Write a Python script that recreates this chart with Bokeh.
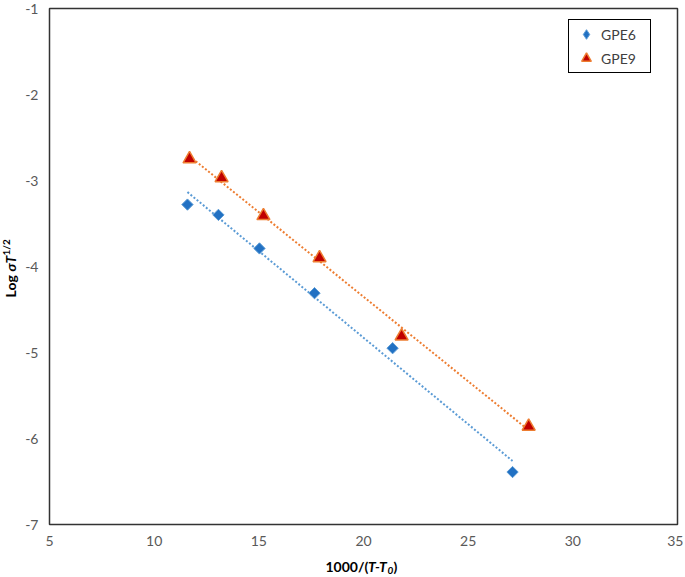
import numpy as np
from math import pi
from bokeh.plotting import figure
from bokeh.layouts import row, column
from bokeh.models import Label, Legend, LegendItem, Range1d, FixedTicker, CustomJSTickFormatter
from bokeh.embed import file_html
from bokeh.resources import INLINE

# ---- data ----
x_gpe6 = [11.59, 13.07, 15.03, 17.66, 21.39, 27.12]
y_gpe6 = [-3.28, -3.40, -3.79, -4.31, -4.95, -6.39]
x_gpe9 = [11.69, 13.22, 15.22, 17.90, 21.82, 27.89]
y_gpe9 = [-2.75, -2.97, -3.41, -3.90, -4.81, -5.86]
series_names = ["GPE6", "GPE9"]
x_ticks = [5, 10, 15, 20, 25, 30, 35]
y_ticks = [-7, -6, -5, -4, -3, -2, -1]

FONT = "Lato"
TICK_COLOR = "#595959"
BLUE_FILL, BLUE_LINE = "#2271C3", "#5B9BD5"
RED_FILL, ORANGE = "#C00000", "#ED7D31"

x_range = Range1d(x_ticks[0], x_ticks[-1])
y_range = Range1d(y_ticks[0], y_ticks[-1])

p = figure(width=661, height=552, output_backend="svg", toolbar_location=None,
           x_range=x_range, y_range=y_range,
           min_border_left=26, min_border_right=6, min_border_top=8, min_border_bottom=28,
           background_fill_color="white", border_fill_color="white")

p.xgrid.visible = False
p.ygrid.visible = False
p.outline_line_color = "#333333"
p.outline_line_width = 1.5
p.outline_line_alpha = 1.0

for ax in (p.xaxis[0], p.yaxis[0]):
    ax.axis_line_color = None
    ax.major_tick_line_color = None
    ax.minor_tick_line_color = None
    ax.major_tick_out = 0
    ax.major_tick_in = 0
    ax.minor_tick_out = 0
    ax.minor_tick_in = 0
    ax.axis_label_standoff = 0
    ax.major_label_text_color = TICK_COLOR
    ax.major_label_text_font = FONT
    ax.major_label_text_font_size = "14px"
    ax.major_label_standoff = 11
    ax.formatter = CustomJSTickFormatter(code="return tick.toString()")
p.xaxis[0].ticker = FixedTicker(ticks=x_ticks)
p.yaxis[0].ticker = FixedTicker(ticks=y_ticks)

# ---- linear trend lines (least squares of the data) ----
def trend(xs, ys):
    k, b = np.polyfit(xs, ys, 1)
    xe = [min(xs), max(xs)]
    return xe, [k * v + b for v in xe]

tx6, ty6 = trend(x_gpe6, y_gpe6)
tx9, ty9 = trend(x_gpe9, y_gpe9)
p.line(tx6, ty6, line_color=BLUE_LINE, line_width=2, line_dash="2 2")
p.line(tx9, ty9, line_color=ORANGE, line_width=2, line_dash="2 2")

# diamond renderer used for the legend swatch (hidden under the rotated squares)
r6_leg = p.scatter(x_gpe6, y_gpe6, marker="diamond", size=9,
                   fill_color=BLUE_FILL, line_color=BLUE_LINE, line_width=1)
p.scatter(x_gpe6, y_gpe6, marker="square", angle=pi / 4, size=8,
          fill_color=BLUE_FILL, line_color=BLUE_LINE, line_width=1)
r9 = p.scatter(x_gpe9, y_gpe9, marker="triangle", size=13,
               fill_color=RED_FILL, line_color=ORANGE, line_width=1.5)

legend = Legend(items=[LegendItem(label=series_names[0], renderers=[r6_leg]),
                       LegendItem(label=series_names[1], renderers=[r9])],
                location=(519, 451), border_line_color="black", border_line_width=1.5,
                border_line_alpha=1.0, label_text_font=FONT, label_text_font_size="14px",
                label_text_color="#404040", padding=2, spacing=0, glyph_height=24,
                glyph_width=30, label_height=24, label_width=47, label_standoff=0,
                margin=0, background_fill_alpha=1.0)
p.add_layout(legend)


def title_fig(w, h, xr, yr):
    f = figure(width=w, height=h, output_backend="svg", toolbar_location=None,
               x_axis_location=None, y_axis_location=None, min_border=0,
               x_range=xr, y_range=yr,
               background_fill_color="white", border_fill_color="white")
    f.outline_line_color = None
    f.grid.visible = False
    return f


def lab(f, x, y, text, xu, yu, xo=0, yo=0, size="14px", style="bold", angle=0):
    f.add_layout(Label(x=x, y=y, x_units=xu, y_units=yu, x_offset=xo, y_offset=yo,
                       text=text, text_font=FONT, text_font_size=size,
                       text_font_style=style, text_color="black", text_align="left",
                       text_baseline="middle", angle=angle))

# x title: 1000/(T-T0), placed against the shared x range (centred on x = 20)
xf = title_fig(661, 24, x_range, Range1d(0, 1))
xc = 20
lab(xf, xc, 10, "1000/(", "data", "screen", xo=-38)
lab(xf, xc, 10, "T-T", "data", "screen", xo=4.5, style="bold italic")
lab(xf, xc, 6, "0", "data", "screen", xo=24, size="10px", style="bold italic")
lab(xf, xc, 10, ")", "data", "screen", xo=30)

# y title: Log σT^1/2
yf = title_fig(22, 576, Range1d(0, 1), Range1d(0, 1))
lab(yf, 10, 279, "Log", "screen", "screen", angle=pi / 2)
lab(yf, 10, 305, "σT", "screen", "screen", style="bold italic", angle=pi / 2)
lab(yf, 5, 321, "1/2", "screen", "screen", size="10px", angle=pi / 2)

layout = row(yf, column(p, xf))
open("out.html", "w").write(file_html(layout, INLINE))
